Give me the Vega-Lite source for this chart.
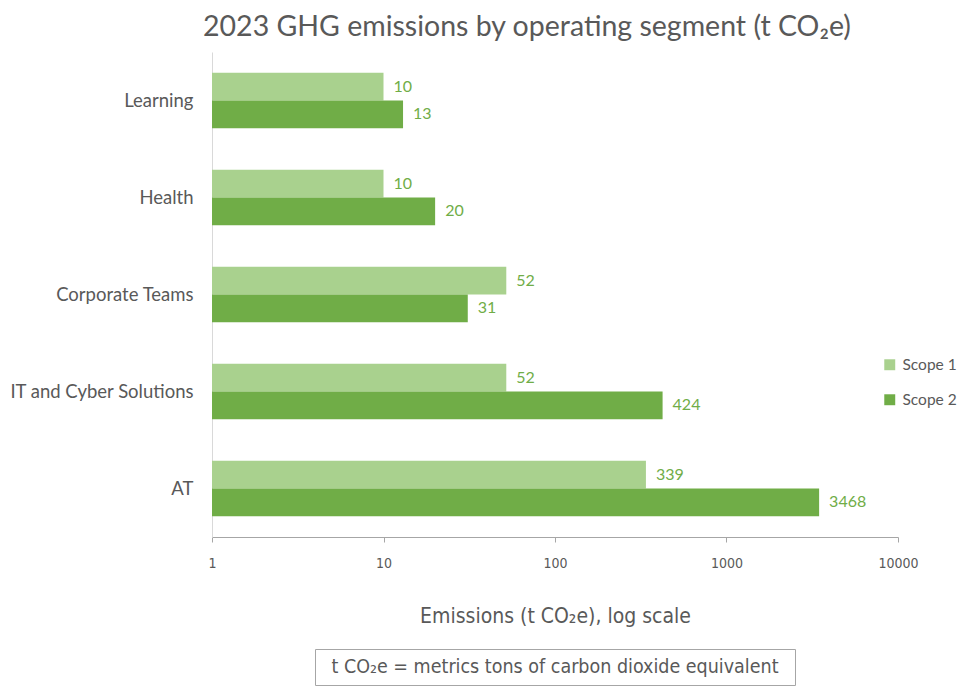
{
  "$schema": "https://vega.github.io/schema/vega-lite/v6.json",
  "padding": {"left": 9, "top": 12, "right": 5, "bottom": 2},
  "background": "white",
  "spacing": 112,
  "bounds": "flush",
  "center": true,
  "config": {"view": {"stroke": null}, "font": "Lato"},
  "vconcat": [
    {
      "width": 686,
      "height": 485,
      "title": {
        "text": "2023 GHG emissions by operating segment (t CO₂e)",
        "fontSize": 28.5,
        "font": "Lato",
        "fontWeight": "normal",
        "color": "#595959",
        "anchor": "middle",
        "frame": "group",
        "dx": -28,
        "offset": 11
      },
      "data": {
        "values": [
          {"segment": "Learning", "scope": "Scope 1", "value": 10},
          {"segment": "Learning", "scope": "Scope 2", "value": 13},
          {"segment": "Health", "scope": "Scope 1", "value": 10},
          {"segment": "Health", "scope": "Scope 2", "value": 20},
          {"segment": "Corporate Teams", "scope": "Scope 1", "value": 52},
          {"segment": "Corporate Teams", "scope": "Scope 2", "value": 31},
          {"segment": "IT and Cyber Solutions", "scope": "Scope 1", "value": 52},
          {"segment": "IT and Cyber Solutions", "scope": "Scope 2", "value": 424},
          {"segment": "AT", "scope": "Scope 1", "value": 339},
          {"segment": "AT", "scope": "Scope 2", "value": 3468}
        ]
      },
      "encoding": {
        "y": {
          "field": "segment",
          "type": "nominal",
          "sort": ["Learning", "Health", "Corporate Teams", "IT and Cyber Solutions", "AT"],
          "scale": {"paddingInner": 0.43, "paddingOuter": 0.215},
          "axis": {
            "title": null,
            "ticks": false,
            "labelPadding": 19,
            "labelFontSize": 18.5,
            "labelLimit": 400,
            "labelColor": "#595959",
            "labelFont": "Lato",
            "domainColor": "#d9d9d9"
          }
        },
        "yOffset": {"field": "scope", "type": "nominal", "sort": ["Scope 1", "Scope 2"]},
        "x": {
          "field": "value",
          "type": "quantitative",
          "scale": {"type": "log", "domain": [1, 10000]},
          "axis": {
            "values": [1, 10, 100, 1000, 10000],
            "format": "d",
            "grid": false,
            "domain": true,
            "domainColor": "#a6a6a6",
            "tickColor": "#a6a6a6",
            "tickSize": 5,
            "labelFontSize": 14,
            "labelFont": "DejaVu Sans Condensed",
            "labelColor": "#595959",
            "labelPadding": 14,
            "labelFlush": false,
            "title": "Emissions (t CO₂e), log scale",
            "titleFont": "DejaVu Sans Condensed",
            "titleFontSize": 21,
            "titleFontWeight": "normal",
            "titleColor": "#595959",
            "titlePadding": 35
          }
        }
      },
      "layer": [
        {
          "mark": {"type": "bar"},
          "encoding": {
            "x2": {"datum": 1},
            "color": {
              "field": "scope",
              "type": "nominal",
              "scale": {"domain": ["Scope 1", "Scope 2"], "range": ["#A9D18E", "#70AD47"]},
              "legend": {
                "orient": "none",
                "legendX": 670,
                "legendY": 305,
                "title": null,
                "labelFontSize": 15.5,
                "labelFont": "Lato",
                "labelColor": "#595959",
                "symbolType": "square",
                "symbolSize": 120,
                "symbolStrokeWidth": 0,
                "rowPadding": 18,
                "labelOffset": 5
              }
            }
          }
        },
        {
          "mark": {"type": "text", "align": "left", "baseline": "middle", "dx": 10, "fontSize": 16, "fontWeight": "normal", "color": "#70AD47", "font": "Lato"},
          "encoding": {"text": {"field": "value", "type": "quantitative", "format": "d"}}
        }
      ]
    },
    {
      "width": 480,
      "height": 36,
      "view": {"stroke": "#a6a6a6", "strokeWidth": 1},
      "data": {"values": [{"note": "t CO₂e = metrics tons of carbon dioxide equivalent"}]},
      "mark": {"type": "text", "fontSize": 19.5, "font": "DejaVu Sans Condensed", "color": "#595959"},
      "encoding": {"text": {"field": "note", "type": "nominal"}}
    }
  ]
}
